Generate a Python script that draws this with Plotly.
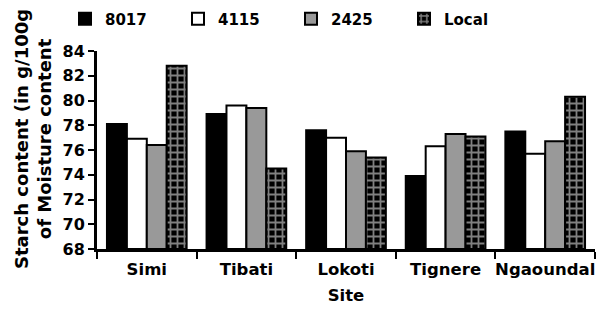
import plotly.graph_objects as go

sites = ["Simi", "Tibati", "Lokoti", "Tignere", "Ngaoundal"]
v8017 = [78.1, 78.9, 77.6, 73.9, 77.5]
v4115 = [76.9, 79.6, 77.0, 76.3, 75.7]
v2425 = [76.4, 79.4, 75.9, 77.3, 76.7]
vlocal = [82.8, 74.5, 75.4, 77.1, 80.3]
yticks = [68, 70, 72, 74, 76, 78, 80, 82, 84]
ytitle = "Starch content (in g/100g<br>of Moisture content"

FONT = "DejaVu Sans, Arial, sans-serif"
base = 68

# page body has an 8px margin; figure sized to fit the 605x309 window
W, H = 597, 301
L, R, T, B = 89, 10, 43, 60
pw, ph = W - L - R, H - T - B

fig = go.Figure()
line = dict(color="black", width=2)
fig.add_trace(go.Bar(name="8017", x=sites, y=[v - base for v in v8017], base=base,
                     marker=dict(color="black", line=line)))
fig.add_trace(go.Bar(name="4115", x=sites, y=[v - base for v in v4115], base=base,
                     marker=dict(color="white", line=line)))
fig.add_trace(go.Bar(name="2425", x=sites, y=[v - base for v in v2425], base=base,
                     marker=dict(color="#999999", line=line)))
fig.add_trace(go.Bar(name="Local", x=sites, y=[v - base for v in vlocal], base=base,
                     marker=dict(color="black", line=line,
                                 pattern=dict(shape="+", fgcolor="white", bgcolor="black",
                                              size=7, solidity=0.45, fillmode="overlay"))))

fig.add_annotation(text=ytitle, textangle=-90, xref="paper", yref="paper",
                   x=(25 - L) / pw, y=(H - B - 131) / ph, xanchor="center", yanchor="middle",
                   showarrow=False, font=dict(size=18, family=FONT, weight="bold"))

fig.update_layout(
    width=W, height=H,
    margin=dict(l=L, r=R, t=T, b=B, autoexpand=False),
    paper_bgcolor="white", plot_bgcolor="white",
    barmode="group", bargap=0.2, bargroupgap=0,
    font=dict(family=FONT, size=16, color="black", weight="bold"),
    legend=dict(orientation="h", x=57 / W, xref="container", y=(H - B - 11) / ph, yref="paper",
                xanchor="left", yanchor="middle", entrywidth=68, entrywidthmode="pixels",
                itemwidth=30, font=dict(size=15), bgcolor="rgba(0,0,0,0)"),
    xaxis=dict(showline=True, linecolor="black", linewidth=3, ticks="outside",
               tickson="boundaries", ticklen=7, tickwidth=2, tickcolor="black",
               automargin=False, tickangle=0, ticklabelstandoff=3,
               tickfont=dict(size=16.5),
               title=dict(text="Site", standoff=12, font=dict(size=16.5))),
    yaxis=dict(range=[68, 84], tickvals=yticks, showline=True, linecolor="black",
               linewidth=3, ticks="outside", ticklen=6, tickwidth=2, tickcolor="black",
               showgrid=False, zeroline=False, automargin=False),
)

fig.write_html("out.html")
